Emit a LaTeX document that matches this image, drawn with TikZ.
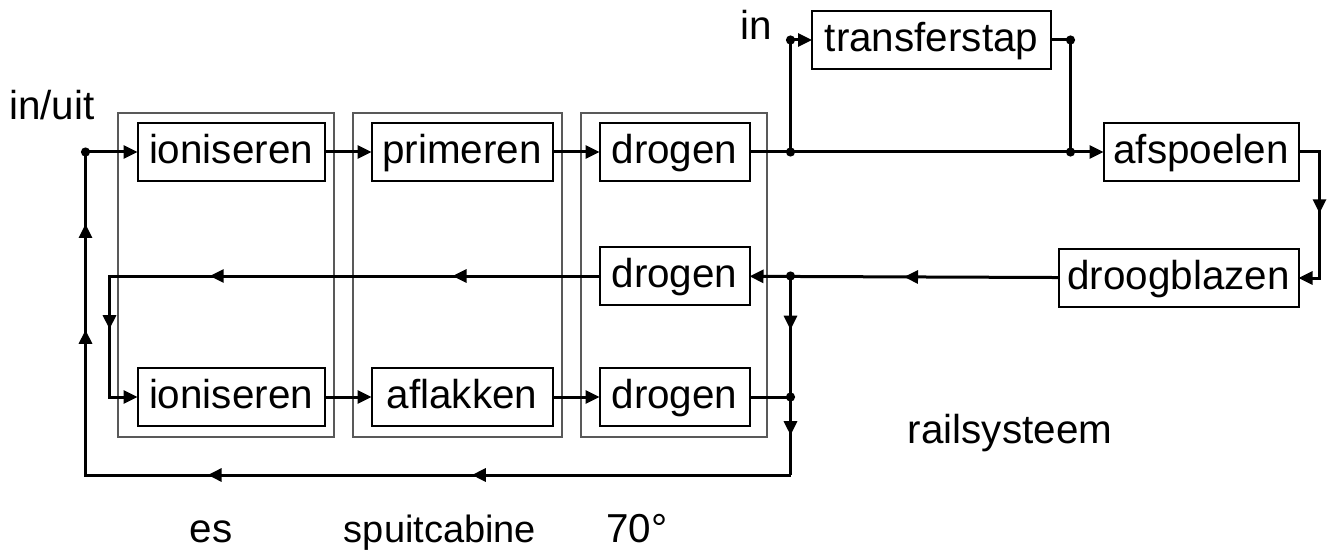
\documentclass[tikz,border=0pt]{standalone}
\usepackage{fontspec}
\setmainfont{Liberation Sans}
\usetikzlibrary{arrows.meta, positioning, decorations.markings}

\begin{document}
\begin{tikzpicture}[x=0.5pt, y=-0.5pt, font=\fontsize{20.2}{24}\selectfont, >={Triangle[length=7pt,width=6.5pt]}]
% Styles
\tikzstyle{process} = [rectangle, minimum height=29pt, text height=16pt, text depth=4.3pt, text centered, draw=black, line width=1pt, inner sep=0pt, outer sep=0pt]
\tikzstyle{cabin} = [draw=black!65, line width=0.75pt]
\tikzstyle{flow} = [line width=1.5pt]
\tikzstyle{arrow} = [flow, ->]
\tikzstyle{caption} = [anchor=base, inner sep=0pt]
\tikzset{midarrow/.style={postaction={decorate, decoration={markings, mark=at position #1 with {\arrow{>}}}}}}

\useasboundingbox (0,0) rectangle (1334,551);

% Cabins
\draw [cabin] (118,113) rectangle (334,437);
\draw [cabin] (353,113) rectangle (562,437);
\draw [cabin] (581,113) rectangle (767,437);

% Nodes
\node (ion_top) [process, minimum width=93.5pt] at (231,152) {ioniseren};
\node (primeren) [process, minimum width=90.5pt, right=23.5pt of ion_top] {primeren};
\node (drogen_top) [process, minimum width=75pt, right=23.5pt of primeren] {drogen};
\node (drogen_mid) [process, minimum width=75pt, below=33pt of drogen_top] {drogen};
\node (ion_bot) [process, minimum width=93.5pt, below=93.5pt of ion_top] {ioniseren};
\node (aflakken) [process, minimum width=90.5pt, right=23.5pt of ion_bot] {aflakken};
\node (drogen_bot) [process, minimum width=75pt, right=23.5pt of aflakken] {drogen};
\node (afspoelen) [process, minimum width=97.5pt, right=177pt of drogen_top] {afspoelen};
\node (droogblazen) [process, minimum width=120pt, below=34pt of afspoelen.south east, anchor=north east] {droogblazen};
\node (transferstap) [process, minimum width=119.5pt, anchor=west] at (812,40) {transferstap};

% Labels
\node (lbl_inuit) [caption] at (52,120) {in/uit};
\node (lbl_in) [caption] at (756,40) {in};
\node (lbl_rail) [caption] at (1010,443) {railsysteem};
\node (lbl_es) [caption] at (211,542) {es};
\node (lbl_cabine) [caption, font=\fontsize{19}{23}\selectfont] at (440,542) {spuitcabine};
\node (lbl_temp) [caption] at (637,542) {70°};

% Junctions
\coordinate[right=20.5pt of drogen_top.east] (split);
\coordinate[left=16.5pt of afspoelen.west] (merge);
\coordinate (tr_in) at (split |- transferstap.west);
\coordinate (tr_out) at (merge |- transferstap.east);
\coordinate (ret_mid) at (split |- drogen_mid.east);
\coordinate (ret_bot) at (split |- drogen_bot.east);
\coordinate[below=39pt of ret_bot] (ret_corner);
\coordinate[left=26pt of ion_top.west] (entry);
\coordinate[left=14pt of ion_bot.west] (cross_bot);

% Arrows
\draw [arrow] (entry) -- (ion_top);
\draw [arrow] (ion_top) -- (primeren);
\draw [arrow] (primeren) -- (drogen_top);
\draw [arrow] (drogen_top) -- (afspoelen);
\draw [arrow] (split) |- (transferstap);
\draw [flow] (transferstap) -| (merge);
\draw [arrow, midarrow=0.49] (afspoelen.east) -- ++(21,0) |- (droogblazen.east);
\draw [arrow, midarrow=0.5] (droogblazen) -- (drogen_mid);
\draw [arrow, midarrow=0.23, midarrow=0.61, midarrow=0.85] (drogen_mid) -| (cross_bot) -- (ion_bot);
\draw [arrow] (ion_bot) -- (aflakken);
\draw [arrow] (aflakken) -- (drogen_bot);
\draw [flow] (drogen_bot) -- (ret_bot);
\draw [flow, midarrow=0.27, midarrow=0.8] (ret_mid) -- (ret_corner);
\draw [flow, midarrow=0.31, midarrow=0.567, midarrow=0.827, midarrow=0.93] (ret_corner) -| (entry);

% Dots
\foreach \p in {entry, split, merge, tr_in, tr_out, ret_mid, ret_bot}
  \fill (\p) circle (2.3pt);
\end{tikzpicture}
\end{document}
